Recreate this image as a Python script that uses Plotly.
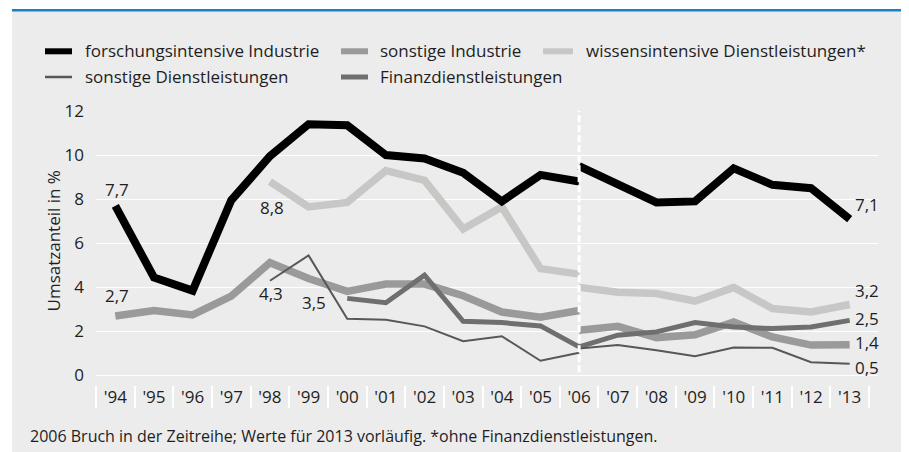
import plotly.graph_objects as go

# ---------------- data ----------------
years = ["'94", "'95", "'96", "'97", "'98", "'99", "'00", "'01", "'02", "'03",
         "'04", "'05", "'06", "'07", "'08", "'09", "'10", "'11", "'12", "'13"]

# series before the 2006 break ('94..'06) and after ('06..'13)
forsch_old = [7.7, 4.45, 3.85, 7.95, 9.95, 11.4, 11.35, 10.0, 9.85, 9.2, 7.9, 9.1, 8.8]
forsch_new = [9.5, 8.7, 7.85, 7.9, 9.4, 8.65, 8.5, 7.1]

sind_old = [2.7, 2.95, 2.75, 3.6, 5.12, 4.4, 3.82, 4.15, 4.15, 3.62, 2.88, 2.65, 2.95]
sind_new = [2.05, 2.23, 1.72, 1.85, 2.43, 1.75, 1.38, 1.4]

wiss_old = [8.8, 7.65, 7.85, 9.3, 8.85, 6.65, 7.65, 4.85, 4.6]          # '98..'06
wiss_new = [4.0, 3.78, 3.72, 3.38, 4.0, 3.04, 2.88, 3.22]

sdl_old = [4.3, 5.45, 2.58, 2.53, 2.23, 1.56, 1.78, 0.67, 1.03]          # '98..'06
sdl_new = [1.23, 1.38, 1.15, 0.88, 1.27, 1.26, 0.6, 0.53]

fin_old = [3.5, 3.3, 4.55, 2.46, 2.4, 2.25, 1.3]                          # '00..'06
fin_new = [1.3, 1.83, 1.98, 2.4, 2.2, 2.13, 2.2, 2.5]

names = ["forschungsintensive Industrie", "sonstige Industrie",
         "wissensintensive Dienstleistungen*", "sonstige Dienstleistungen",
         "Finanzdienstleistungen"]

footnote = "2006 Bruch in der Zeitreihe; Werte für 2013 vorläufig. *ohne Finanzdienstleistungen."
ytitle = "Umsatzanteil in %"

# ---------------- styling ----------------
FONT = "Open Sans"
TXT = "#1e1e1e"
BG = "#ececec"
C_FORSCH = "#000000"
C_SIND = "#9a9a9a"
C_WISS = "#c7c8c6"
C_SDL = "#575757"
C_FIN = "#6f6f6f"

OFF = 8                      # page body margin in the browser
W, H = 909 - OFF, 452 - OFF  # figure size
# plot area in screenshot pixels: x 96..878, y 111..385
SX0, SX1, SY0, SY1 = 96, 878, 111, 385
L, T = SX0 - OFF, SY0 - OFF
R, B = W - (SX1 - OFF), H - (SY1 - OFF)
PW, PH = SX1 - SX0, SY1 - SY0


def px(x):
    """screenshot x pixel -> paper"""
    return (x - SX0) / PW


def py(y):
    """screenshot y pixel -> paper"""
    return (SY1 - y) / PH


idx = list(range(len(years)))
i06 = years.index("'06")
i98 = years.index("'98")
i00 = years.index("'00")

fig = go.Figure()


def add(xs, ys, color, width):
    fig.add_trace(go.Scatter(x=xs, y=ys, mode="lines",
                             line=dict(color=color, width=width, shape="linear"),
                             showlegend=False, hoverinfo="skip"))


add(idx[i98:i06 + 1], wiss_old, C_WISS, 7.5)
add(idx[i06:], wiss_new, C_WISS, 7.5)
add(idx[:i06 + 1], sind_old, C_SIND, 7.5)
add(idx[i06:], sind_new, C_SIND, 7.5)
add(idx[:i06 + 1], forsch_old, C_FORSCH, 8)
add(idx[i06:], forsch_new, C_FORSCH, 8)
add(idx[i00:i06 + 1], fin_old, C_FIN, 5)
add(idx[i06:], fin_new, C_FIN, 5)
add(idx[i98:i06 + 1], sdl_old, C_SDL, 2)
add(idx[i06:], sdl_new, C_SDL, 2)

shapes = []
# white surround + blue top rule
shapes.append(dict(type="rect", xref="paper", yref="paper", x0=px(0), x1=px(12), y0=py(460), y1=py(0),
                   fillcolor="white", line=dict(width=0), layer="below"))
shapes.append(dict(type="rect", xref="paper", yref="paper", x0=px(907), x1=px(915), y0=py(460), y1=py(0),
                   fillcolor="white", line=dict(width=0), layer="below"))
shapes.append(dict(type="rect", xref="paper", yref="paper", x0=px(0), x1=px(915), y0=py(9), y1=py(0),
                   fillcolor="white", line=dict(width=0), layer="below"))
shapes.append(dict(type="rect", xref="paper", yref="paper", x0=px(12), x1=px(915), y0=py(11.5), y1=py(9),
                   fillcolor="#1683c9", line=dict(width=0), layer="below"))
# break line at 2006
shapes.append(dict(type="line", xref="x", yref="y", x0=i06, x1=i06, y0=0.15, y1=12,
                   line=dict(color="white", width=3, dash="7px,3px"), layer="above"))

# manual legend
leg = [
    (45, 72, 51.3, C_FORSCH, 6, 83, names[0]),
    (341, 368, 51.3, C_SIND, 6, 378, names[1]),
    (543, 573, 51.3, C_WISS, 6, 584, names[2]),
    (45, 72, 77, C_SDL, 2.5, 83, names[3]),
    (341, 368, 77, C_FIN, 5, 378, names[4]),
]
annotations = []
for x0, x1, yy, col, lw, tx, name in leg:
    shapes.append(dict(type="line", xref="paper", yref="paper", x0=px(x0), x1=px(x1), y0=py(yy), y1=py(yy),
                       line=dict(color=col, width=lw)))
    annotations.append(dict(xref="paper", yref="paper", x=px(tx), y=py(yy - 1), text=name, showarrow=False,
                            xanchor="left", yanchor="middle", font=dict(family=FONT, size=17, color=TXT)))


# data labels
def lab(x, y, text, xa="center", xs=0, ys=0):
    annotations.append(dict(xref="x", yref="y", x=x, y=y, text=text, showarrow=False,
                            xanchor=xa, yanchor="middle", xshift=xs, yshift=ys,
                            font=dict(family=FONT, size=17, color=TXT)))


fmt = lambda v: f"{v:.1f}".replace(".", ",")
lab(0, forsch_old[0], fmt(forsch_old[0]), xs=2, ys=16)
lab(0, sind_old[0], fmt(sind_old[0]), xs=2, ys=21)
lab(i98, wiss_old[0], fmt(wiss_old[0]), xs=2, ys=-26)
lab(i98, sdl_old[0], fmt(sdl_old[0]), xs=1, ys=-13)
lab(i00, fin_old[0], fmt(fin_old[0]), xa="right", xs=-19, ys=-4)
last = len(years) - 1
lab(last, forsch_new[-1], fmt(forsch_new[-1]), xa="left", xs=3, ys=15)
lab(last, wiss_new[-1], fmt(wiss_new[-1]), xa="left", xs=3, ys=14)
lab(last, fin_new[-1], fmt(fin_new[-1]), xa="left", xs=3, ys=2)
lab(last, sind_new[-1], fmt(sind_new[-1]), xa="left", xs=3, ys=2)
lab(last, sdl_new[-1], fmt(sdl_new[-1]), xa="left", xs=3, ys=-4)

# y title and footnote
annotations.append(dict(xref="paper", yref="paper", x=px(53), y=py(241.5), text=ytitle, showarrow=False,
                        textangle=-90, xanchor="center", yanchor="middle",
                        font=dict(family=FONT, size=17, color=TXT)))
annotations.append(dict(xref="paper", yref="paper", x=px(28), y=py(436), text=footnote, showarrow=False,
                        xanchor="left", yanchor="middle", font=dict(family=FONT, size=16, color=TXT)))

fig.update_layout(
    width=W, height=H,
    margin=dict(l=L, r=R, t=T, b=B, pad=0),
    paper_bgcolor=BG, plot_bgcolor=BG,
    font=dict(family=FONT, size=17, color=TXT),
    showlegend=False,
    shapes=shapes, annotations=annotations,
    xaxis=dict(range=[-0.5, 19.5 + 9 / 38.65], tickmode="array", tickvals=idx, ticktext=years,
               showgrid=False, zeroline=False, showline=False, ticks="",
               tickfont=dict(family=FONT, size=17, color=TXT),
               minor=dict(ticks="outside", ticklen=22, tickwidth=1.5, tickcolor="white",
                          tickmode="linear", tick0=-0.5, dtick=1, showgrid=False),
               fixedrange=True),
    yaxis=dict(range=[-0.43, 12], tickmode="array", tickvals=[0, 2, 4, 6, 8, 10, 12],
               showgrid=True, gridcolor="white", gridwidth=1.3, zeroline=False, showline=False,
               ticks="", ticklabelstandoff=11,
               tickfont=dict(family=FONT, size=17, color=TXT), fixedrange=True),
)

fig.write_html("out.html")
